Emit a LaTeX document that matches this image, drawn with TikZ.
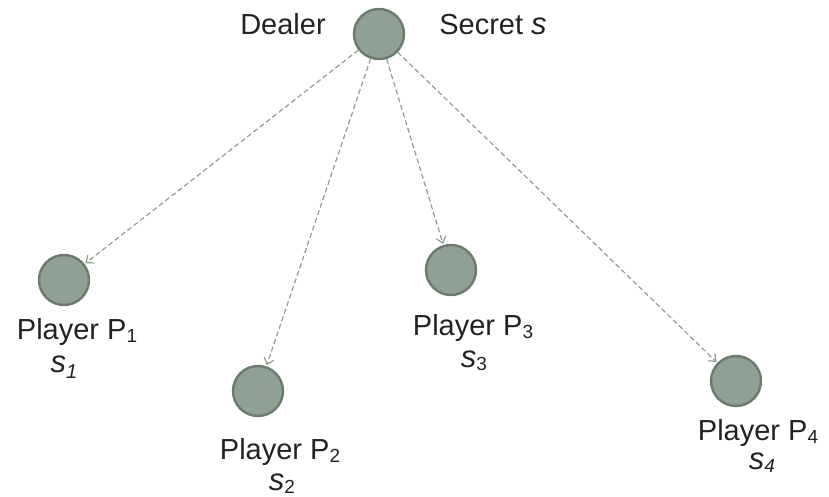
\documentclass[tikz,border=0pt]{standalone}
\usepackage{fontspec}
\setmainfont{Liberation Sans}
\usetikzlibrary{arrows.meta}
\definecolor{nodefill}{HTML}{8FA094}
\definecolor{nodeedge}{HTML}{6B7C6F}
\definecolor{arrowcol}{HTML}{8C9E90}
\definecolor{txt}{HTML}{222222}
\newcommand{\psub}[1]{\raisebox{-3pt}{\fontsize{19}{19}\selectfont #1}}
\newcommand{\ssub}[1]{\raisebox{-6pt}{\fontsize{20}{20}\selectfont #1}}
\newcommand{\svar}{{\fontsize{31}{32}\selectfont\itshape s}}
\tikzset{
  party/.style={circle, draw=nodeedge, fill=nodefill, line width=2.4pt, minimum size=50pt, inner sep=0pt},
  lbl/.style={anchor=base, text=txt, font=\fontsize{29}{32}\selectfont, inner sep=0pt},
  share/.style={draw=arrowcol, line width=1.2pt, dash pattern=on 5pt off 3pt, -{Straight Barb[length=6pt,width=10pt]}, shorten >=1pt}
}
\begin{document}
\begin{tikzpicture}[x=1pt,y=-1pt]
\useasboundingbox (0,0) rectangle (829,497);
\node[party] (d) at (379,34) {};
\node[party] (p1) at (64,280) {};
\node[party] (p2) at (258,391) {};
\node[party] (p3) at (451,270) {};
\node[party] (p4) at (736,381) {};
\node[lbl] (tdealer) at (283,35) {Dealer};
\node[lbl] (tsecret) at (493,35) {Secret \svar};
\node[lbl] (t1) at (77,339) {Player P\psub{1}};
\node[lbl] (s1) at (64,372) {\svar\ssub{\textit{1}}};
\node[lbl] (t2) at (280,459) {Player P\psub{2}};
\node[lbl] (s2) at (282,490) {\svar\psub{2}};
\node[lbl] (t3) at (473,335) {Player P\psub{3}};
\node[lbl] (s3) at (474,367) {\svar\psub{3}};
\node[lbl] (t4) at (758,440) {Player P\psub{4}};
\node[lbl] (s4) at (762,469) {\svar\psub{\textit{4}}};
\draw[share] (d) -- (p1);
\draw[share] (d) -- (p2);
\draw[share] (d) -- (p3);
\draw[share] (d) -- (p4);
\end{tikzpicture}
\end{document}
